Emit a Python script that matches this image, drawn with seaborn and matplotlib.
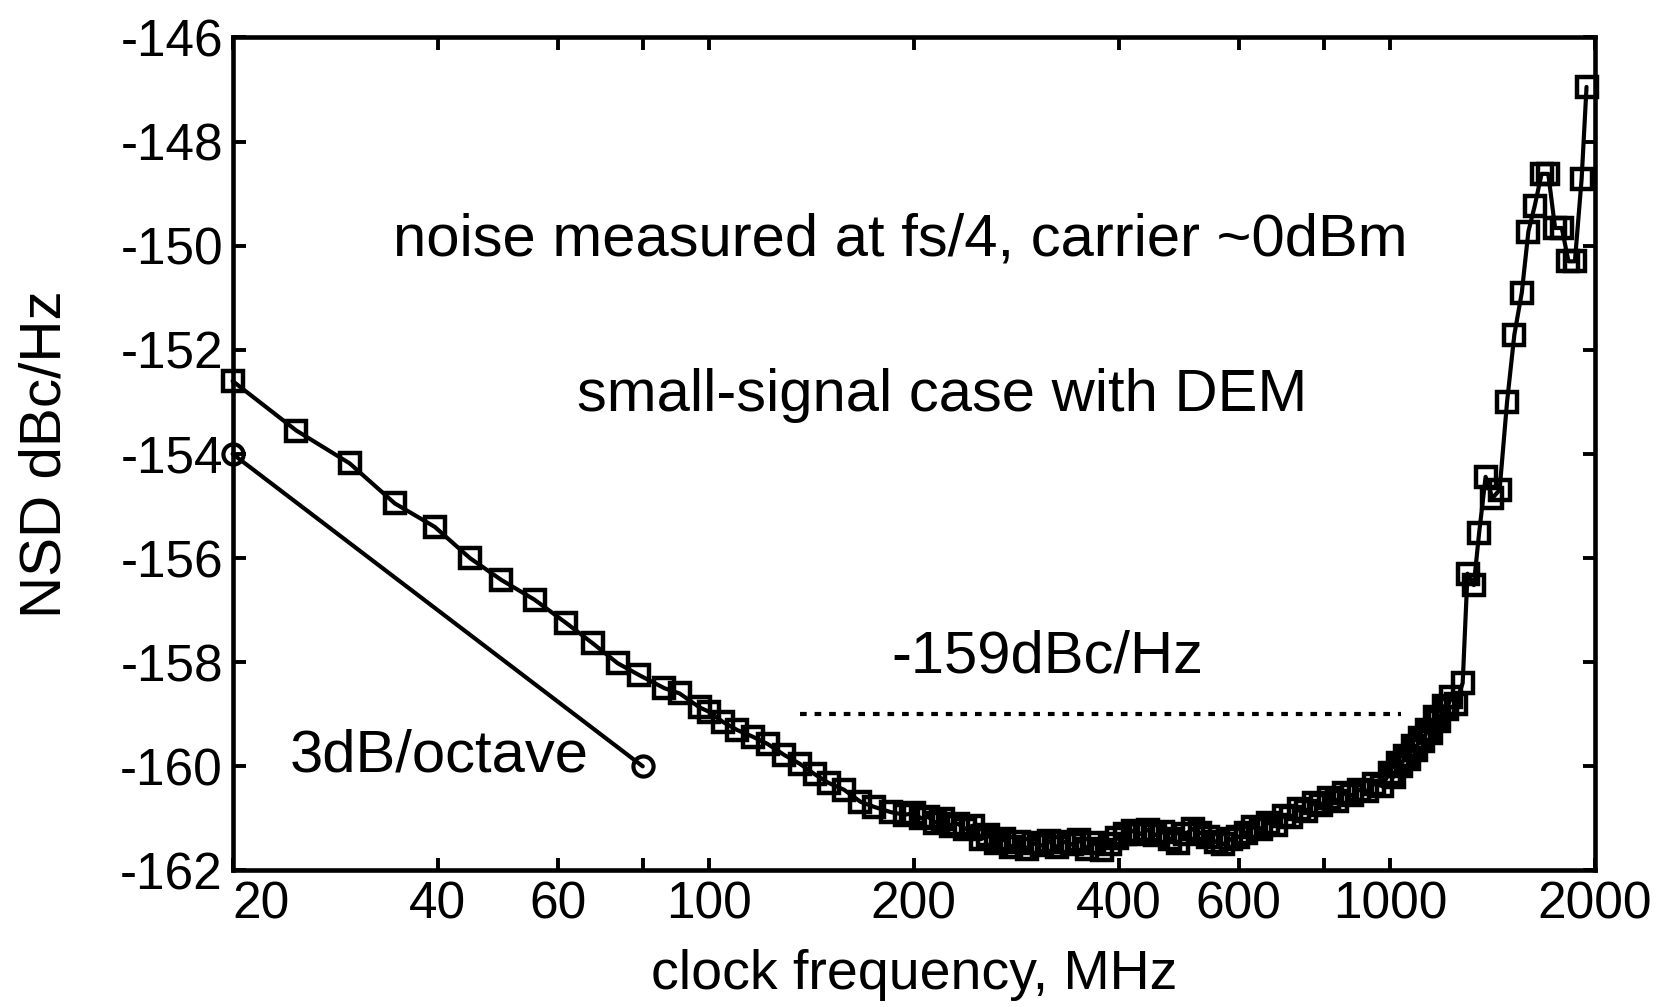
import matplotlib
matplotlib.use("Agg")
import matplotlib.pyplot as plt
import seaborn as sns
import numpy as np
import pandas as pd

# measured NSD, small-signal case with DEM (squares)
freq_mhz = [20, 24.8, 29.7, 34.6, 39.6, 44.6, 49.6, 55.5, 61.8, 67.6, 73.5, 79.1,
            86.1, 90.6, 97, 100, 105, 110, 116, 122, 129, 136, 143, 150, 158,
            167, 175, 185, 194, 200, 205, 210, 215, 221, 227, 232, 238, 244, 251,
            257, 264, 271, 278, 285, 293, 300, 308, 316, 324, 332, 341, 350, 359,
            368, 378, 388, 398, 408, 419, 430, 441, 452, 464, 476, 488, 501, 514,
            527, 541, 555, 569, 584, 599, 614, 630, 646, 663, 680, 698, 716, 735,
            754, 773, 793, 814, 835, 857, 879, 902, 925, 949, 974, 999, 1013,
            1027, 1039, 1051, 1065, 1080, 1093, 1106, 1120, 1134, 1149, 1164,
            1182, 1200, 1214, 1228, 1249, 1279, 1300, 1328, 1352, 1382,
            1414, 1449, 1486, 1523, 1562, 1597, 1632, 1670, 1708, 1748, 1788,
            1829, 1869, 1912, 1944]
nsd_dbc = [-152.6, -153.55, -154.18, -154.95, -155.4, -156.0, -156.42, -156.8,
           -157.25, -157.64, -158.02, -158.25, -158.5, -158.6, -158.87, -158.95,
           -159.15, -159.3, -159.43, -159.57, -159.78, -159.95, -160.15, -160.32,
           -160.45, -160.68, -160.78, -160.88, -160.93, -160.9, -161.0, -160.97,
           -161.08, -161.02, -161.15, -161.1, -161.2, -161.14, -161.4, -161.32,
           -161.48, -161.4, -161.55, -161.45, -161.58, -161.48, -161.52, -161.44,
           -161.55, -161.45, -161.5, -161.42, -161.58, -161.47, -161.6, -161.5,
           -161.38, -161.3, -161.24, -161.3, -161.22, -161.32, -161.26, -161.4,
           -161.47, -161.3, -161.2, -161.28, -161.35, -161.45, -161.5, -161.4,
           -161.36, -161.28, -161.17, -161.2, -161.08, -161.12, -160.95, -160.98,
           -160.82, -160.86, -160.7, -160.74, -160.6, -160.66, -160.52, -160.56,
           -160.45, -160.48, -160.33, -160.38, -160.12, -160.2, -159.94, -160.0,
           -159.8, -159.85, -159.6, -159.68, -159.45, -159.52, -159.3, -159.36,
           -159.05, -159.12, -158.85, -158.9, -158.66, -158.8, -158.4, -156.3,
           -156.52, -155.52, -154.44, -154.85, -154.69, -153.0, -151.71, -150.9,
           -149.73, -149.23, -148.62, -148.62, -149.66, -149.66, -150.3, -150.3,
           -148.72, -146.95]

# 3dB/octave reference (circles)
slope_freq = [20, 80]
slope_nsd = [-154, -160]

# -159dBc/Hz level line
level_freq = [136, 1040]
level_nsd = [-159, -159]

xtick_vals = [20, 40, 60, 80, 100, 200, 400, 600, 800, 1000, 2000]
xtick_labels = ["20", "40", "60", "", "100", "200", "400", "600", "", "1000", "2000"]
ytick_vals = [-162, -160, -158, -156, -154, -152, -150, -148, -146]

sns.set_style("ticks")
plt.rcParams["font.family"] = ["Liberation Sans", "DejaVu Sans"]
plt.rcParams["axes.unicode_minus"] = False
plt.rcParams["text.color"] = "black"
plt.rcParams["axes.labelcolor"] = "black"
plt.rcParams["xtick.color"] = "black"
plt.rcParams["ytick.color"] = "black"
plt.rcParams["axes.edgecolor"] = "black"

fig = plt.figure(figsize=(16.81, 10.07), dpi=100)
ax = fig.add_axes([0.1384, 0.1356, 0.8104, 0.8272])

df_main = pd.DataFrame({"f": freq_mhz, "nsd": nsd_dbc})
df_slope = pd.DataFrame({"f": slope_freq, "nsd": slope_nsd})
df_level = pd.DataFrame({"f": level_freq, "nsd": level_nsd})

sns.lineplot(data=df_main, x="f", y="nsd", ax=ax, sort=False, estimator=None,
             color="black", linewidth=3.0, marker="s", markersize=14,
             markerfacecolor="none", markeredgecolor="black", markeredgewidth=3.2,
             clip_on=False, zorder=3)
sns.lineplot(data=df_slope, x="f", y="nsd", ax=ax, sort=False, estimator=None,
             color="black", linewidth=3.0, marker="o", markersize=14.5,
             markerfacecolor="none", markeredgecolor="black", markeredgewidth=3.0,
             clip_on=False, zorder=3)
sns.lineplot(data=df_level, x="f", y="nsd", ax=ax, sort=False, estimator=None,
             color="black", linewidth=3.0, linestyle=(0, (1.6, 1.9)))

ax.set_xscale("log")
ax.set_xlim(20, 2000)
ax.set_ylim(-162, -146)
ax.set_xticks(xtick_vals)
ax.set_xticklabels(xtick_labels)
ax.xaxis.set_minor_locator(matplotlib.ticker.NullLocator())
ax.set_yticks(ytick_vals)
ax.set_yticklabels([str(v) for v in ytick_vals])
ax.get_xticklabels()[0].set_horizontalalignment("left")

ax.tick_params(axis="both", which="major", direction="in", length=9, width=2.8,
               labelsize=37, pad=7, top=True, right=True, colors="black")
for sp in ax.spines.values():
    sp.set_linewidth(3.3)
    sp.set_visible(True)
    sp.set_color("black")

ax.set_xlabel("clock frequency, MHz", fontsize=40, labelpad=14)
ax.set_ylabel("NSD dBc/Hz", fontsize=42, labelpad=34)

ax.text(191, -150.18, "noise measured at fs/4, carrier ~0dBm", fontsize=43,
        ha="center", va="baseline")
ax.text(220, -153.17, "small-signal case with DEM", fontsize=43,
        ha="center", va="baseline")
ax.text(314, -158.19, "-159dBc/Hz", fontsize=43, ha="center", va="baseline")
ax.text(40.2, -160.1, "3dB/octave", fontsize=43, ha="center", va="baseline")

fig.savefig("out.png", dpi=100)
